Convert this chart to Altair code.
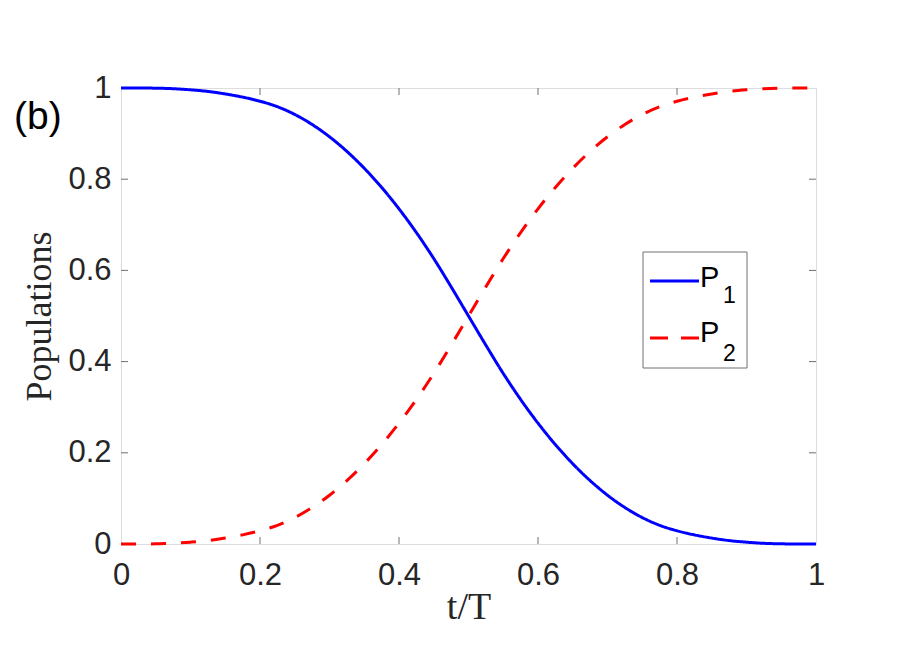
import altair as alt
import pandas as pd

# data
t_vals = [0.0, 0.025, 0.05, 0.075, 0.1, 0.125, 0.15, 0.175, 0.2, 0.225, 0.25,
          0.275, 0.3, 0.325, 0.35, 0.375, 0.4, 0.425, 0.45, 0.475, 0.5,
          0.525, 0.55, 0.575, 0.6, 0.625, 0.65, 0.675, 0.7, 0.725, 0.75,
          0.775, 0.8, 0.825, 0.85, 0.875, 0.9, 0.925, 0.95, 0.975, 1.0]
p2_vals = [0.0, 0.00003, 0.0004, 0.0015, 0.004, 0.0075, 0.013, 0.02, 0.029, 0.041, 0.058,
           0.08, 0.107, 0.139, 0.176, 0.218, 0.265, 0.317, 0.374, 0.436, 0.5,
           0.564, 0.626, 0.683, 0.735, 0.782, 0.824, 0.861, 0.893, 0.92, 0.942,
           0.959, 0.971, 0.98, 0.987, 0.9925, 0.996, 0.9985, 0.9996, 0.99997, 1.0]
p1_vals = [1.0, 0.99997, 0.9996, 0.9985, 0.996, 0.9925, 0.987, 0.98, 0.971, 0.959, 0.942,
           0.92, 0.893, 0.861, 0.824, 0.782, 0.735, 0.683, 0.626, 0.564, 0.5,
           0.436, 0.374, 0.317, 0.265, 0.218, 0.176, 0.139, 0.107, 0.08, 0.058,
           0.041, 0.029, 0.02, 0.013, 0.0075, 0.004, 0.0015, 0.0004, 0.00003, 0.0]
series_names = ["P1", "P2"]
series_colors = ["#0000ff", "#ff0000"]
x_ticks = [0, 0.2, 0.4, 0.6, 0.8, 1]
y_ticks = [0, 0.2, 0.4, 0.6, 0.8, 1]
inner_ticks = [0.2, 0.4, 0.6, 0.8]

W, H = 695, 456
AXC = "#707070"
LAB = "#262626"
SANS = "Liberation Sans"
SERIF = "Liberation Serif"

rows = []
for t, a, b in zip(t_vals, p1_vals, p2_vals):
    rows.append({"t": t, "value": a, "series": "P1"})
    rows.append({"t": t, "value": b, "series": "P2"})
df = pd.DataFrame(rows)

xscale = alt.Scale(domain=[0, 1], nice=False, zero=False)
yscale = alt.Scale(domain=[0, 1], nice=False, zero=False)

lines = alt.Chart(df).mark_line(strokeWidth=3, interpolate="monotone").encode(
    x=alt.X("t:Q", scale=xscale,
            axis=alt.Axis(title="t/T", values=x_ticks, format="~g", grid=False, domain=False,
                          ticks=False, labelFlush=False, labelFont=SANS, labelFontSize=31,
                          labelColor=LAB, labelPadding=16, titleFont=SERIF, titleFontSize=38,
                          titleFontWeight="normal", titleColor=LAB, titlePadding=-2)),
    y=alt.Y("value:Q", scale=yscale,
            axis=alt.Axis(title="Populations", values=y_ticks, format="~g", grid=False,
                          domain=False, ticks=False, labelFlush=False, labelFont=SANS,
                          labelFontSize=31, labelColor=LAB, labelPadding=10, titleFont=SERIF,
                          titleFontSize=36, titleFontWeight="normal", titleColor=LAB,
                          titlePadding=9)),
    color=alt.Color("series:N", scale=alt.Scale(domain=series_names, range=series_colors),
                    legend=None),
    strokeDash=alt.StrokeDash("series:N", scale=alt.Scale(domain=series_names,
                                                          range=[[1, 0], [15, 15]]),
                              legend=None),
)

tdf = pd.DataFrame({"v": inner_ticks})
tick_bottom = alt.Chart(tdf).mark_rule(color=AXC, strokeWidth=1).encode(
    x=alt.X("v:Q", scale=xscale), y=alt.value(H), y2=alt.value(H - 7))
tick_top = alt.Chart(tdf).mark_rule(color=AXC, strokeWidth=1).encode(
    x=alt.X("v:Q", scale=xscale), y=alt.value(0), y2=alt.value(7))
tick_left = alt.Chart(tdf).mark_rule(color=AXC, strokeWidth=1).encode(
    y=alt.Y("v:Q", scale=yscale), x=alt.value(0), x2=alt.value(7))
tick_right = alt.Chart(tdf).mark_rule(color=AXC, strokeWidth=1).encode(
    y=alt.Y("v:Q", scale=yscale), x=alt.value(W), x2=alt.value(W - 7))

label_b = alt.Chart(pd.DataFrame({"s": ["(b)"]})).mark_text(
    font=SANS, fontSize=39, color="#000000", align="left", baseline="alphabetic"
).encode(text="s:N", x=alt.value(-107), y=alt.value(41))

# legend
leg_box = alt.Chart(pd.DataFrame({"k": [0]})).mark_rect(
    fill="white", stroke=AXC, strokeWidth=1
).encode(x=alt.value(522), x2=alt.value(626), y=alt.value(164), y2=alt.value(280))
leg_l1 = alt.Chart(pd.DataFrame({"k": [0]})).mark_rule(color=series_colors[0], strokeWidth=3).encode(
    x=alt.value(529), x2=alt.value(578), y=alt.value(193))
leg_l2 = alt.Chart(pd.DataFrame({"k": [0]})).mark_rule(color=series_colors[1], strokeWidth=3,
                                                        strokeDash=[18, 13]).encode(
    x=alt.value(529), x2=alt.value(578), y=alt.value(250))
leg_p = alt.Chart(pd.DataFrame({"s": ["P", "P"], "yy": [199, 254]})).mark_text(
    font=SANS, fontSize=29, color="#000000", align="left", baseline="alphabetic"
).encode(text="s:N", x=alt.value(579), y=alt.Y("yy:Q", scale=None))
leg_sub = alt.Chart(pd.DataFrame({"s": ["1", "2"], "yy": [215, 273]})).mark_text(
    font=SANS, fontSize=23, color="#000000", align="left", baseline="alphabetic"
).encode(text="s:N", x=alt.value(602), y=alt.Y("yy:Q", scale=None))

chart = alt.layer(
    lines, tick_bottom, tick_top, tick_left, tick_right, label_b,
    leg_box, leg_l1, leg_l2, leg_p, leg_sub
).properties(
    width=W, height=H,
    autosize=alt.AutoSizeParams(type="none"),
    padding={"left": 113, "top": 80, "right": 70, "bottom": 85},
).configure_view(stroke=AXC, strokeWidth=1).configure(background="white")

chart.save("out.html", embed_options={"renderer": "svg", "actions": False})
